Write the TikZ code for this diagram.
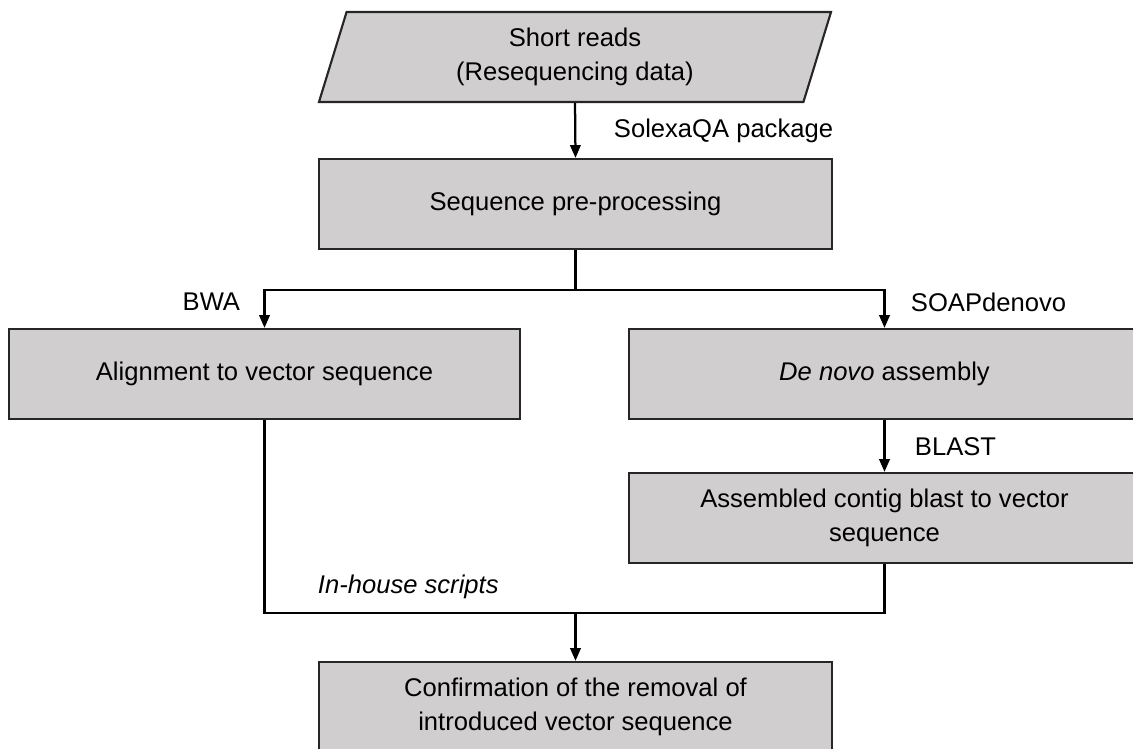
\documentclass[tikz,border=0pt]{standalone}
\usepackage{fontspec}
\setmainfont{Liberation Sans}
\usepackage{tikz}
\usetikzlibrary{arrows.meta,shapes.geometric}

\definecolor{boxgray}{RGB}{208,206,206}

\begin{document}
\begin{tikzpicture}[x=0.025cm,y=-0.025cm,
  font=\fontsize{18.2}{24}\selectfont,
  procbox/.style={draw=black!85,fill=boxgray,line width=1.5pt,minimum height=2.25cm,align=center,inner sep=0pt},
  flow/.style={line width=1.6pt,-{Triangle[length=0.32cm,width=0.26cm]}},
  plain/.style={line width=1.6pt}]
\useasboundingbox (0,0) rectangle (1133,749);
\node[procbox,trapezium,trapezium left angle=76,trapezium right angle=104,
  trapezium stretches=true,minimum width=12.8cm] (reads) at (575,57) {Short reads\\(Resequencing data)};
\node[procbox,minimum width=12.825cm] (pre) at (575.5,204) {Sequence pre-processing};
\node[procbox,minimum width=12.775cm] (align) at (264.5,374) {Alignment to vector sequence};
\node[procbox,minimum width=12.775cm] (denovo) at (884.5,374) {\textit{De novo} assembly};
\node[procbox,minimum width=12.775cm] (contig) at (884.5,518) {Assembled contig blast to vector\\sequence};
\node[procbox,minimum width=12.825cm] (confirm) at (575.5,707) {Confirmation of the removal of\\introduced vector sequence};
\node[anchor=west] (solexa) at (609,131) {SolexaQA package};
\node[anchor=east] (bwa) at (245,302) {BWA};
\node[anchor=west] (soap) at (906,302) {SOAPdenovo};
\node[anchor=west] (blast) at (910,447) {BLAST};
\node[anchor=west] (inhouse) at (313,587) {\textit{In-house scripts}};
\coordinate (split) at (575.5,290);
\coordinate (merge) at (575.5,613);
\draw[flow] (reads.south) -- (pre.north);
\draw[plain] (pre.south) -- (split);
\draw[flow] (split) -| (align.north);
\draw[flow] (split) -| (denovo.north);
\draw[flow] (denovo.south) -- (contig.north);
\draw[plain] (align.south) |- (merge);
\draw[plain] (contig.south) |- (merge);
\draw[flow] (merge) -- (confirm.north);
\end{tikzpicture}
\end{document}
